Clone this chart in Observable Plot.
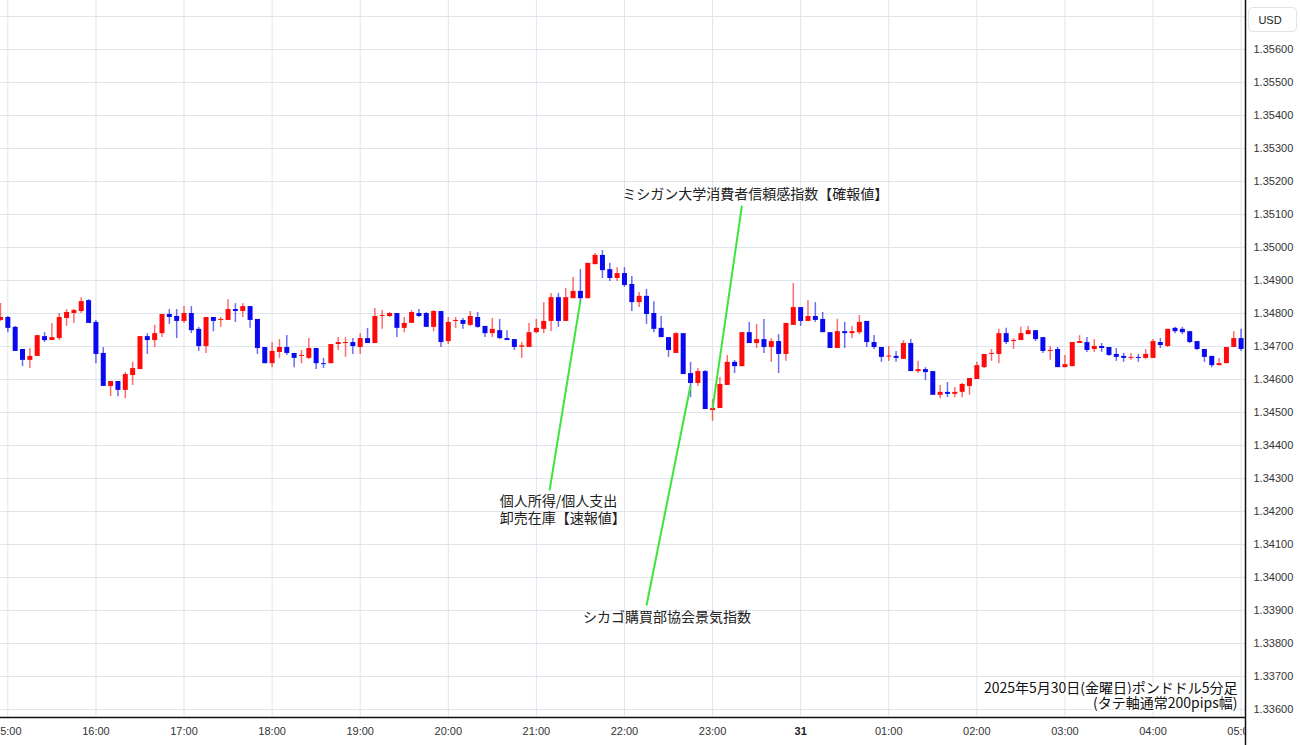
<!DOCTYPE html>
<html><head><meta charset="utf-8">
<script src="https://cdn.jsdelivr.net/npm/d3@7"></script>
<script src="https://cdn.jsdelivr.net/npm/@observablehq/plot@0.6"></script>
<style>
html,body{margin:0;padding:0;background:#fff;overflow:hidden;}
#chart{width:1300px;height:745px;}
</style></head><body><div id="chart"></div>
<script>
// ===== Data: GBP/USD 5-minute candles, 2025-05-30 14:55 → 2025-05-31 05:00 =====
const startTime = "2025-05-30T14:55:00Z";
const stepMinutes = 5;
const open = [
1.34779,1.34788,1.34758,1.34691,1.34658,1.34670,1.34730,1.34718,1.34724,1.34785,1.34800,1.34806,1.34839,
1.34773,1.34679,1.34579,1.34594,1.34567,1.34612,1.34630,1.34730,1.34718,1.34739,1.34797,1.34791,
1.34776,1.34800,1.34752,1.34700,1.34788,1.34779,1.34779,1.34812,1.34806,1.34821,1.34782,1.34697,
1.34648,1.34682,1.34697,1.34679,1.34670,1.34664,1.34694,1.34648,1.34648,1.34706,1.34709,1.34712,
1.34697,1.34724,1.34709,1.34791,1.34791,1.34800,1.34755,1.34770,1.34800,1.34800,1.34758,1.34806,
1.34715,1.34776,1.34779,1.34764,1.34788,1.34761,1.34739,1.34748,1.34724,1.34721,1.34698,1.34697,
1.34742,1.34752,1.34776,1.34848,1.34776,1.34845,1.34867,1.34845,1.34948,1.34976,1.34933,1.34906,
1.34921,1.34888,1.34833,1.34852,1.34800,1.34755,1.34727,1.34679,1.34739,1.34618,1.34588,1.34624,
1.34506,1.34512,1.34582,1.34652,1.34639,1.34742,1.34709,1.34721,1.34697,1.34715,1.34676,1.34764,
1.34818,1.34776,1.34791,1.34782,1.34742,1.34694,1.34745,1.34739,1.34742,1.34776,1.34712,1.34697,
1.34668,1.34670,1.34661,1.34709,1.34624,1.34630,1.34624,1.34552,1.34561,1.34555,1.34561,1.34579,
1.34600,1.34636,1.34676,1.34676,1.34739,1.34715,1.34718,1.34736,1.34748,1.34727,1.34685,1.34691,
1.34636,1.34639,1.34709,1.34712,1.34691,1.34700,1.34697,1.34676,1.34670,1.34664,1.34667,1.34664,
1.34664,1.34712,1.34700,1.34755,1.34752,1.34745,1.34715,1.34691,1.34670,1.34642,1.34648,1.34697,
1.34724];
const high = [
1.34830,1.34791,1.34761,1.34691,1.34694,1.34733,1.34742,1.34770,1.34800,1.34812,1.34812,1.34848,1.34842,
1.34779,1.34697,1.34594,1.34594,1.34621,1.34652,1.34730,1.34739,1.34764,1.34797,1.34812,1.34812,
1.34821,1.34821,1.34758,1.34788,1.34788,1.34788,1.34842,1.34830,1.34830,1.34821,1.34782,1.34697,
1.34712,1.34721,1.34733,1.34679,1.34688,1.34724,1.34694,1.34664,1.34706,1.34727,1.34727,1.34724,
1.34739,1.34755,1.34815,1.34809,1.34803,1.34800,1.34788,1.34809,1.34812,1.34803,1.34809,1.34806,
1.34788,1.34788,1.34785,1.34806,1.34803,1.34761,1.34785,1.34782,1.34748,1.34721,1.34712,1.34770,
1.34782,1.34833,1.34861,1.34861,1.34876,1.34909,1.34933,1.34952,1.34982,1.34991,1.34952,1.34939,
1.34939,1.34912,1.34864,1.34873,1.34836,1.34791,1.34727,1.34742,1.34739,1.34652,1.34633,1.34627,
1.34539,1.34606,1.34673,1.34658,1.34742,1.34773,1.34767,1.34782,1.34724,1.34736,1.34770,1.34891,
1.34818,1.34839,1.34833,1.34803,1.34742,1.34782,1.34773,1.34761,1.34794,1.34776,1.34733,1.34697,
1.34700,1.34685,1.34718,1.34721,1.34655,1.34636,1.34624,1.34582,1.34591,1.34576,1.34588,1.34603,
1.34652,1.34676,1.34691,1.34752,1.34755,1.34724,1.34758,1.34761,1.34748,1.34727,1.34700,1.34697,
1.34673,1.34712,1.34733,1.34727,1.34721,1.34709,1.34697,1.34694,1.34679,1.34679,1.34676,1.34691,
1.34721,1.34724,1.34752,1.34758,1.34758,1.34745,1.34715,1.34691,1.34670,1.34664,1.34697,1.34745,
1.34752];
const low = [
1.34776,1.34742,1.34685,1.34639,1.34633,1.34670,1.34712,1.34718,1.34718,1.34761,1.34770,1.34800,1.34770,
1.34648,1.34579,1.34548,1.34548,1.34542,1.34582,1.34630,1.34676,1.34697,1.34727,1.34767,1.34724,
1.34770,1.34739,1.34685,1.34679,1.34745,1.34758,1.34779,1.34773,1.34788,1.34755,1.34676,1.34648,
1.34636,1.34664,1.34673,1.34636,1.34648,1.34661,1.34630,1.34633,1.34648,1.34688,1.34667,1.34676,
1.34676,1.34709,1.34709,1.34752,1.34788,1.34727,1.34742,1.34770,1.34788,1.34758,1.34745,1.34697,
1.34706,1.34755,1.34752,1.34761,1.34755,1.34727,1.34727,1.34721,1.34718,1.34688,1.34664,1.34697,
1.34739,1.34739,1.34745,1.34758,1.34776,1.34845,1.34830,1.34845,1.34948,1.34906,1.34897,1.34897,
1.34879,1.34806,1.34818,1.34767,1.34742,1.34727,1.34667,1.34679,1.34615,1.34545,1.34579,1.34509,
1.34473,1.34512,1.34582,1.34618,1.34639,1.34709,1.34694,1.34679,1.34652,1.34618,1.34655,1.34764,
1.34761,1.34776,1.34773,1.34742,1.34694,1.34694,1.34694,1.34724,1.34736,1.34697,1.34691,1.34652,
1.34655,1.34652,1.34661,1.34624,1.34618,1.34597,1.34552,1.34542,1.34545,1.34545,1.34545,1.34552,
1.34600,1.34633,1.34655,1.34648,1.34706,1.34691,1.34718,1.34736,1.34715,1.34679,1.34658,1.34636,
1.34636,1.34639,1.34709,1.34682,1.34682,1.34682,1.34670,1.34655,1.34652,1.34658,1.34652,1.34661,
1.34664,1.34694,1.34697,1.34739,1.34736,1.34709,1.34688,1.34652,1.34636,1.34642,1.34648,1.34697,
1.34685];
const close = [
1.34788,1.34755,1.34685,1.34658,1.34670,1.34733,1.34718,1.34727,1.34788,1.34803,1.34809,1.34836,1.34770,
1.34676,1.34579,1.34594,1.34567,1.34615,1.34633,1.34730,1.34718,1.34739,1.34797,1.34788,1.34776,
1.34800,1.34748,1.34700,1.34788,1.34776,1.34782,1.34812,1.34806,1.34821,1.34779,1.34694,1.34648,
1.34685,1.34697,1.34679,1.34664,1.34673,1.34694,1.34648,1.34645,1.34706,1.34712,1.34712,1.34700,
1.34724,1.34709,1.34791,1.34794,1.34800,1.34755,1.34770,1.34803,1.34791,1.34758,1.34806,1.34712,
1.34773,1.34779,1.34767,1.34791,1.34758,1.34739,1.34752,1.34724,1.34718,1.34697,1.34702,1.34742,
1.34755,1.34776,1.34848,1.34776,1.34848,1.34867,1.34845,1.34952,1.34976,1.34930,1.34906,1.34921,
1.34885,1.34833,1.34852,1.34797,1.34752,1.34727,1.34688,1.34739,1.34615,1.34588,1.34624,1.34509,
1.34512,1.34585,1.34652,1.34639,1.34742,1.34709,1.34721,1.34697,1.34715,1.34676,1.34770,1.34818,
1.34776,1.34791,1.34779,1.34742,1.34694,1.34745,1.34739,1.34745,1.34773,1.34712,1.34697,1.34667,
1.34671,1.34664,1.34709,1.34624,1.34630,1.34621,1.34552,1.34561,1.34555,1.34561,1.34585,1.34603,
1.34642,1.34676,1.34679,1.34739,1.34712,1.34718,1.34739,1.34748,1.34721,1.34685,1.34688,1.34636,
1.34645,1.34712,1.34715,1.34688,1.34700,1.34694,1.34673,1.34667,1.34664,1.34667,1.34664,1.34676,
1.34715,1.34703,1.34752,1.34745,1.34742,1.34712,1.34691,1.34667,1.34642,1.34648,1.34697,1.34724,
1.34691];

// Axis ticks / labels
const yLabelPrices = d3.range(1336, 1357).map(d => d / 1000);   // 1.33600 … 1.35600
const yGridPrices  = d3.range(1336, 1358).map(d => d / 1000);   // grid also at 1.35700
const hourTicks = d3.utcHour.range(new Date("2025-05-30T15:00:00Z"), new Date("2025-05-31T05:01:00Z"));
const dayLabel = "31";
const xDomain = [new Date("2025-05-30T14:55:00Z"), new Date("2025-05-31T05:03:00Z")];
const yDomain = [1.335758, 1.357485];
const currencyLabel = "USD";

// Annotations (event, candle they point at, line start, text position)
const annTexts = ["ミシガン大学消費者信頼感指数【確報値】", "個人所得/個人支出\n卸売在庫【速報値】", "シカゴ購買部協会景気指数"];
const annEventTimes = ["2025-05-30T23:00:00Z", "2025-05-30T21:30:00Z", "2025-05-30T22:45:00Z"];
const annEventPrices = [1.34512, 1.34839, 1.34582];
const annLineTimes = ["2025-05-30T23:20:00Z", "2025-05-30T21:09:00Z", "2025-05-30T22:15:00Z"];
const annLinePrices = [1.35127, 1.34264, 1.33915];
const annTextTimes = ["2025-05-30T23:29:00Z", "2025-05-30T20:35:00Z", "2025-05-30T22:29:00Z"];
const annTextPrices = [1.35161, 1.34208, 1.33879];

const captionLines = ["2025年5月30日(金曜日)ポンドドル5分足", "(タテ軸通常200pips幅)"];

// ===== Build =====
const t0 = new Date(startTime).getTime();
const candles = open.map((o, i) => ({
  t: new Date(t0 + i * stepMinutes * 60000),
  o, h: high[i], l: low[i], c: close[i],
  dir: close[i] >= o ? "up" : "down"
}));
const ann = annTexts.map((text, i) => ({
  text,
  ex: new Date(annEventTimes[i]), ey: annEventPrices[i],
  lx: new Date(annLineTimes[i]), ly: annLinePrices[i],
  tx: new Date(annTextTimes[i]), ty: annTextPrices[i],
  anchor: i === 1 ? "start" : "middle"
}));

const UP = "#ff0a0a", DOWN = "#0a0af0", GRID = "#dfe5ec", GREEN = "#3ce43c";
const JP = "'Noto Sans CJK JP', 'Noto Sans', sans-serif";
const AX = "'Liberation Sans', 'Noto Sans', sans-serif";

const isMidnight = d => d.getUTCHours() === 0;

const chart = Plot.plot({
  width: 1300, height: 745,
  marginLeft: 0, marginRight: 55, marginTop: 0, marginBottom: 28,
  style: {fontFamily: AX, fontSize: "11px", color: "#333", background: "white"},
  x: {type: "utc", domain: xDomain},
  y: {domain: yDomain},
  color: {domain: ["up", "down"], range: [UP, DOWN]},
  marks: [
    Plot.gridY(yGridPrices, {stroke: GRID, strokeOpacity: 1}),
    Plot.gridX(hourTicks, {stroke: GRID, strokeOpacity: 1}),
    Plot.ruleX(candles, {x: "t", y1: "l", y2: "h", stroke: "dir", strokeOpacity: 0.6, strokeWidth: 1.5}),
    Plot.ruleX(candles, {x: "t", y1: "o", y2: "c", stroke: "dir", strokeWidth: 5}),
    Plot.link(ann, {x1: "lx", y1: "ly", x2: "ex", y2: "ey", stroke: GREEN, strokeWidth: 2}),
    Plot.text(ann.filter(d => d.anchor === "middle"), {x: "tx", y: "ty", text: "text", textAnchor: "middle", fontFamily: JP, fontSize: 14, fill: "#222"}),
    Plot.text(ann.filter(d => d.anchor === "start"), {x: "tx", y: "ty", text: "text", textAnchor: "start", lineHeight: 1.2, fontFamily: JP, fontSize: 14, fill: "#222"}),
    Plot.text([captionLines[0]], {text: d => d, frameAnchor: "bottom-right", textAnchor: "end", dx: -8, dy: -25, fontFamily: JP, fontSize: 14, fill: "#111", stroke: "white", strokeWidth: 4}),
    Plot.text([captionLines[1]], {text: d => d, frameAnchor: "bottom-right", textAnchor: "end", dx: -8, dy: -10, fontFamily: JP, fontSize: 14, fill: "#111", stroke: "white", strokeWidth: 4}),
    Plot.ruleY([yDomain[0]], {stroke: "#111", strokeWidth: 1.5}),
    Plot.axisX(hourTicks.filter(d => !isMidnight(d)), {tickSize: 0, tickPadding: 10, tickFormat: d3.utcFormat("%H:%M"), label: null, fill: "#333"}),
    Plot.axisX(hourTicks.filter(isMidnight), {tickSize: 0, tickPadding: 10, tickFormat: () => dayLabel, fontWeight: "bold", label: null, fill: "#222"}),
    Plot.axisY(yLabelPrices, {anchor: "right", tickSize: 0, tickPadding: 8, tickFormat: d3.format(".5f"), label: null, fill: "#333"})
  ]
});

document.getElementById("chart").appendChild(chart);

// Right-hand price panel (covers overflowing x labels), its border and currency box
const NS = "http://www.w3.org/2000/svg";
const svg = chart.tagName.toLowerCase() === "svg" ? chart : chart.querySelector("svg");
const yLab = svg.querySelector('g[aria-label="y-axis tick label"]');
const panel = document.createElementNS(NS, "rect");
Object.entries({x: 1246, y: 0, width: 54, height: 745, fill: "white"}).forEach(([k, v]) => panel.setAttribute(k, v));
if (yLab) svg.insertBefore(panel, yLab); else svg.appendChild(panel);
const border = document.createElementNS(NS, "line");
Object.entries({x1: 1245.5, x2: 1245.5, y1: 0, y2: 745, stroke: "#111", "stroke-width": 1.5}).forEach(([k, v]) => border.setAttribute(k, v));
svg.appendChild(border);
const box = document.createElementNS(NS, "rect");
Object.entries({x: 1248.5, y: 7.5, width: 48, height: 24, rx: 4, fill: "white", stroke: "#e2e2e2"}).forEach(([k, v]) => box.setAttribute(k, v));
svg.appendChild(box);
const usd = document.createElementNS(NS, "text");
Object.entries({x: 1270, y: 20, "text-anchor": "middle", "dominant-baseline": "central", "font-size": 11, fill: "#222", "font-family": AX}).forEach(([k, v]) => usd.setAttribute(k, v));
usd.textContent = currencyLabel;
svg.appendChild(usd);
</script>
</body></html>
